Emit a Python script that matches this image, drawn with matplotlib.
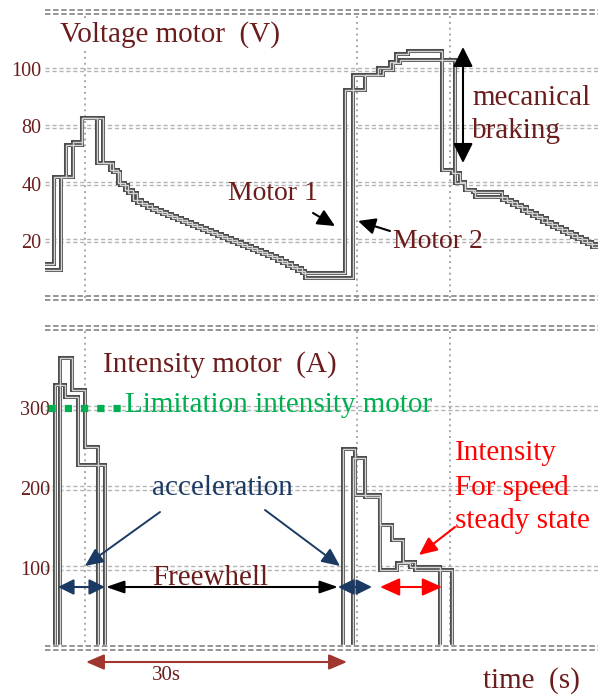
import matplotlib
matplotlib.use('Agg')
import matplotlib.pyplot as plt
from matplotlib.patches import FancyArrowPatch, ArrowStyle

# ---------------- data ----------------
# Voltage of the two motors (time in s, voltage in V on a 20 V / division grid)
time_v1 = [0, 1.05, 2.45, 4.32, 6.07, 7.58, 8.52, 9.33, 10.27, 11.3, 12.5, 13.6, 14.8, 16.0,
           17.1, 18.3, 19.5, 20.6, 21.8, 23.0, 24.1, 25.3, 26.5, 27.6, 28.8, 30.0, 35.0,
           37.3, 38.8, 40.2, 40.9, 42.3, 46.3, 47.5, 48.4, 49.0, 49.9, 53.3, 54.5, 55.6,
           56.8, 58.0, 59.1, 60.3, 61.5, 62.6, 63.8, 64.5]
volt_m1 = [11.9, 42.3, 53.5, 62.9, 47.2, 44.8, 40.2, 37.8, 34.3, 32.5, 30.8, 29.4, 28.0, 26.6,
           25.2, 23.8, 22.4, 21.0, 19.6, 18.2, 16.8, 15.4, 14.0, 12.2, 10.5, 8.7, 72.7,
           78.0, 80.4, 82.5, 85.3, 86.4, 44.8, 43.7, 40.6, 37.8, 37.1, 34.3, 32.5, 30.4,
           28.7, 26.6, 24.8, 23.1, 21.3, 19.6, 17.8, 17.8]
time_v2 = [0, 1.87, 3.27, 4.32, 6.77, 7.93, 8.75, 9.68, 10.7, 11.9, 13.1, 14.2, 15.4, 16.6,
           17.7, 18.9, 20.1, 21.2, 22.4, 23.6, 24.7, 25.9, 27.1, 28.2, 29.4, 30.3, 35.9,
           39.4, 40.6, 41.4, 47.8, 49.0, 50.2, 53.9, 55.1, 56.2, 57.4, 58.6, 59.7, 60.9,
           62.1, 63.2, 64.5]
volt_m2 = [9.8, 42.3, 54.6, 62.9, 47.2, 44.1, 39.5, 36.7, 33.2, 31.5, 30.1, 28.7, 27.3, 25.9,
           24.5, 23.1, 21.7, 20.3, 18.9, 17.5, 16.1, 14.7, 12.9, 11.2, 9.4, 7.0, 78.0,
           79.7, 82.2, 83.2, 40.2, 37.8, 35.3, 33.6, 31.8, 29.7, 28.0, 25.9, 24.1, 22.4,
           20.6, 18.9, 18.9]

# Current of the two motors (A)
time_i1 = [0, 1.17, 2.33, 3.85, 7.0, 34.76, 36.16, 39.08, 41.06, 42.58, 46.08, 64.5]
curr_m1 = [0, 329, 314, 229, 0, 249, 191, 97, 106, 101, 0, 0]
time_i2 = [0, 1.75, 3.15, 4.67, 6.18, 35.93, 37.33, 39.08, 40.48, 41.76, 43.16, 47.48, 64.5]
curr_m2 = [0, 362, 322, 251, 0, 238, 189, 154, 135, 107, 97, 0, 0]

volt_ticks = [20, 40, 60, 80]
volt_tick_labels = ['20', '40', '80', '100']
curr_ticks = [100, 200, 300]
curr_tick_labels = ['100', '200', '300']
grid_times = [4.67, 36.4, 47.2]
limit_current = 300
limit_time = [0.35, 8.9]
T_END = 64.5

# ---------------- style ----------------
plt.rcParams['font.family'] = ['Liberation Serif', 'DejaVu Serif']
DR = '#6b1d1d'
NAVY = '#1b3a63'
GREEN = '#00b050'
RED = '#ff0000'
BROWN = '#a0362f'

W, H = 598, 695
fig = plt.figure(figsize=(W / 100, H / 100), dpi=100)


def fx(x):
    return x / W


def fy(y):
    return 1 - y / H


ax1 = fig.add_axes([fx(45), fy(298), 553 / W, 286 / H])
ax2 = fig.add_axes([fx(45), fy(648), 553 / W, 320 / H])


def scope_grid(ax, ymax, ticks, off):
    for v in ticks:
        for o in (-off, off):
            ax.axhline(v + o, color='#b4b4b4', lw=1.0, ls=(0, (3, 2)), zorder=1)
    for v in (0, ymax):
        for o in (-off, off):
            ax.axhline(v + o, color='#8c8c8c', lw=1.3, ls=(0, (3, 1.5)), zorder=8, clip_on=False)
    for t in grid_times:
        ax.axvline(t, color='#a8a8a8', lw=1.4, ls=(0, (1, 2)), zorder=1)
    ax.set_xlim(0, T_END)
    ax.set_ylim(0, ymax)
    for s in ax.spines.values():
        s.set_visible(False)
    ax.set_xticks([])


def trace(ax, t, v):
    ax.step(t, v, where='post', color='#4d4d4d', lw=2.9, zorder=5, solid_joinstyle='miter')
    ax.step(t, v, where='post', color='#d4d4d4', lw=1.0, zorder=6, solid_joinstyle='miter')


scope_grid(ax1, 100, volt_ticks, 0.55)
scope_grid(ax2, 400, curr_ticks, 1.9)

trace(ax1, time_v1, volt_m1)
trace(ax1, time_v2, volt_m2)
trace(ax2, time_i1, curr_m1)
trace(ax2, time_i2, curr_m2)
ax2.axhspan(0, 3.5, color='white', zorder=7)

ax1.set_yticks(volt_ticks, volt_tick_labels)
ax1.tick_params(axis='y', length=0, pad=2.5, labelsize=14.5, labelcolor=DR)
ax2.set_yticks(curr_ticks, curr_tick_labels)
ax2.tick_params(axis='y', length=0, pad=-3.5, labelsize=14.5, labelcolor=DR)

ax2.plot(limit_time, [limit_current, limit_current], color=GREEN, lw=5.2,
         ls=(0, (1, 1.25)), solid_capstyle='butt', dash_capstyle='butt', zorder=9)


# ---------------- annotations ----------------
def txt(x, y, s, color=DR, size=21, box=False):
    kw = {}
    if box:
        kw['bbox'] = dict(facecolor='white', edgecolor='none', pad=1.5)
    fig.text(fx(x), fy(y), s, color=color, fontsize=size, va='baseline', ha='left', **kw)


def arrow(x0, y0, x1, y1, color='black', style='-|>', hl=10.5, hw=4.5, lw=1.5):
    a = FancyArrowPatch((fx(x0), fy(y0)), (fx(x1), fy(y1)), transform=fig.transFigure,
                        arrowstyle=ArrowStyle(style, head_length=hl, head_width=hw),
                        mutation_scale=1, color=color, lw=lw, shrinkA=0, shrinkB=0)
    fig.add_artist(a)


txt(60, 42, 'Voltage motor  (V)', box=True)
txt(228, 200, 'Motor 1', size=20)
txt(393, 248, 'Motor 2', size=20)
txt(472, 105, 'mecanical')
txt(472, 138, 'braking')
txt(103, 372, 'Intensity motor  (A)')
txt(125, 412, 'Limitation intensity motor', color=GREEN)
txt(152, 495, 'acceleration', color=NAVY)
txt(152, 585, 'Freewhell')
txt(455, 460, 'Intensity', color=RED)
txt(455, 495, 'For speed', color=RED)
txt(455, 528, 'steady state', color=RED)
txt(152, 680, '30s', size=15)
txt(483, 688, 'time  (s)', box=True)

arrow(313, 213, 335, 226, hl=10.5, hw=5)
arrow(390, 231, 358, 221, hl=10.5, hw=5)
arrow(463, 163, 463, 47, style='<|-|>', hl=12, hw=6)
arrow(160, 512, 85, 566, color=NAVY, lw=1.4, hl=11, hw=5)
arrow(265, 510, 340, 566, color=NAVY, lw=1.4, hl=11, hw=5)
arrow(58, 587, 105, 587, color=NAVY, style='<|-|>', hl=9.5, hw=4.7)
arrow(106, 587, 338, 587, style='<|-|>', hl=11, hw=3.8)
arrow(338, 587, 372, 587, color=NAVY, style='<|-|>', hl=9.5, hw=4.7)
arrow(380, 587, 442, 587, color=RED, style='<|-|>', hl=12, hw=5.4)
arrow(455, 527, 419, 555, color=RED, hl=11, hw=5)
arrow(86, 662, 347, 662, color=BROWN, style='<|-|>', hl=11, hw=4.7)

fig.savefig('out.png', dpi=100, facecolor='white')
